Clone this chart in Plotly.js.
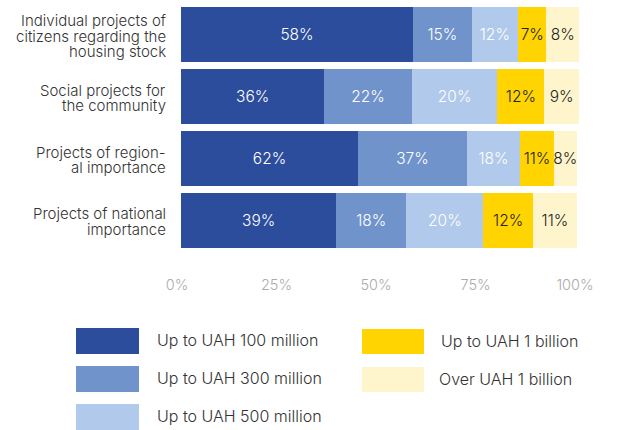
<!DOCTYPE html>
<html>
<head>
<meta charset="utf-8">
<script src="https://cdn.plot.ly/plotly-3.0.1.min.js"></script>
<style>html,body{margin:0;padding:0;background:#fff;}#chart{width:637px;height:430px;}</style>
</head>
<body>
<div id="chart"></div>
<script>
// ---- data ----
const categories = [
  "Individual projects of<br>citizens regarding the<br>housing stock",
  "Social projects for<br>the community",
  "Projects of region-<br>al importance",
  "Projects of national<br>importance"
];
const seriesNames = ["Up to UAH 100 million", "Up to UAH 300 million", "Up to UAH 500 million", "Up to UAH 1 billion", "Over UAH 1 billion"];
// segment widths (share of bar, %) as drawn
const up100m = [58.3, 36.0, 44.5, 39.0];
const up300m = [14.7, 22.0, 27.3, 17.6];
const up500m = [11.7, 21.5, 13.4, 19.4];
const up1b   = [7.1, 11.8, 8.5, 12.4];
const over1b = [8.2, 8.7, 5.7, 11.1];
// printed labels
const lab100m = ["58%", "36%", "62%", "39%"];
const lab300m = ["15%", "22%", "37%", "18%"];
const lab500m = ["12%", "20%", "18%", "20%"];
const lab1b   = ["7%", "12%", "11%", "12%"];
const labOver = ["8%", "9%", "8%", "11%"];
const tickVals = [0, 25, 50, 75, 100];
const tickText = ["0%", "25%", "50%", "75%", "100%"];

// ---- styles ----
const FONT = "Inter, 'Open Sans', sans-serif";
const WEIGHT = 300;
const colors = ["#2C4C9C", "#7093CB", "#B1C9EA", "#FFD400", "#FFF5CC"];
const textColors = ["#ffffff", "#ffffff", "#ffffff", "#222222", "#222222"];

const values = [up100m, up300m, up500m, up1b, over1b];
const labels = [lab100m, lab300m, lab500m, lab1b, labOver];

const traces = values.map((v, i) => ({
  type: "bar",
  orientation: "h",
  name: seriesNames[i],
  y: categories,
  x: v,
  text: labels[i],
  textposition: "inside",
  insidetextanchor: "middle",
  textangle: 0,
  constraintext: "none",
  cliponaxis: false,
  textfont: {family: FONT, size: 15.5, color: textColors[i], weight: WEIGHT},
  marker: {color: colors[i], line: {width: 0}},
  hoverinfo: "skip",
  showlegend: false
}));

// layout geometry (pixels)
const W = 637, H = 430;
const M = {l: 181, r: 58, t: 4, b: 179};
const pw = W - M.l - M.r, ph = H - M.t - M.b;
const px = p => (p - M.l) / pw;
const py = p => (H - M.b - p) / ph;

const annotations = [];
// category labels, one annotation per line
categories.forEach(c => {
  const lines = c.split("<br>");
  const n = lines.length;
  lines.forEach((ln, k) => {
    annotations.push({
      xref: "paper", yref: "y", x: px(167), y: c,
      xanchor: "right", yanchor: "middle",
      yshift: -(((k - (n - 1) / 2) * 15.5) + 1.5),
      text: ln, showarrow: false, borderpad: 0,
      font: {family: FONT, size: 15, color: "#333333", weight: WEIGHT}
    });
  });
});

// custom legend
const legendPos = [
  {x0: 76, x1: 139, y0: 328, y1: 354, tx: 155, ty: 340},
  {x0: 76, x1: 139, y0: 366, y1: 392, tx: 155, ty: 378},
  {x0: 76, x1: 139, y0: 404, y1: 430, tx: 155, ty: 416},
  {x0: 362, x1: 424, y0: 329, y1: 354, tx: 439, ty: 341},
  {x0: 362, x1: 424, y0: 367, y1: 392, tx: 437, ty: 379}
];
const shapes = [];
seriesNames.forEach((nm, i) => {
  const p = legendPos[i];
  shapes.push({
    type: "rect", xref: "paper", yref: "paper",
    x0: px(p.x0), x1: px(p.x1), y0: py(p.y1), y1: py(p.y0),
    fillcolor: colors[i], line: {width: 0}, layer: "above"
  });
  annotations.push({
    xref: "paper", yref: "paper", x: px(p.tx), y: py(p.ty),
    xanchor: "left", yanchor: "middle", text: nm, showarrow: false,
    font: {family: FONT, size: 16, color: "#333333", weight: WEIGHT}
  });
});

const layout = {
  width: W, height: H,
  margin: M,
  paper_bgcolor: "#ffffff", plot_bgcolor: "#ffffff",
  barmode: "stack",
  bargap: 0.11,
  showlegend: false,
  font: {family: FONT},
  xaxis: {
    range: [0, 100], fixedrange: true,
    tickvals: tickVals, ticktext: tickText,
    showgrid: false, zeroline: false, showline: false,
    ticks: "", ticklabelstandoff: 23, ticklabelshift: -4,
    tickfont: {family: FONT, size: 14.5, color: "#ababab", weight: WEIGHT}
  },
  yaxis: {
    type: "category", categoryorder: "array", categoryarray: categories,
    autorange: "reversed", fixedrange: true,
    showticklabels: false, showgrid: false, zeroline: false, showline: false, ticks: ""
  },
  annotations: annotations,
  shapes: shapes
};

Plotly.newPlot("chart", traces, layout, {displayModeBar: false, staticPlot: true});
</script>
</body>
</html>
